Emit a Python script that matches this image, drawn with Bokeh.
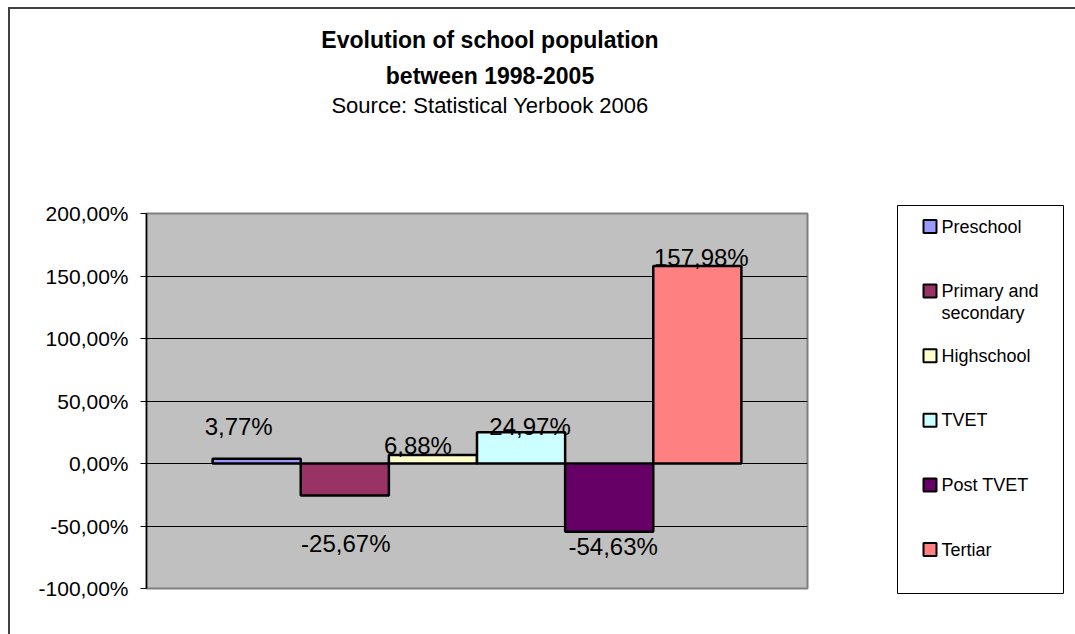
import textwrap

from bokeh.core.properties import value
from bokeh.embed import file_html
from bokeh.layouts import column, row
from bokeh.models import ColumnDataSource, FixedTicker
from bokeh.plotting import figure
from bokeh.resources import INLINE

# Change in enrolment 1998-2005, per school level (percent)
categories = ["Preschool", "Primary and secondary", "Highschool", "TVET", "Post TVET", "Tertiar"]
changes = [3.77, -25.67, 6.88, 24.97, -54.63, 157.98]
colors = ["#9999FF", "#993366", "#FFFFCC", "#CCFFFF", "#660066", "#FF8080"]
y_ticks = [-100, -50, 0, 50, 100, 150, 200]
title_lines = ["Evolution of school population", "between 1998-2005", "Source: Statistical Yerbook 2006"]

# pixel nudges for the value labels, from the bar end (x right, y down)
label_dx = [-18, 1, -15, 9, 4, 4]
label_dy = [-32, 48, -9, -6, 15, -9]

FONT = "Liberation Sans"
OX, OY = 10, 9          # page offset of the chart (inside the border)
PAGE_W, PAGE_H = 1075, 634
SPLIT_X = 860           # page x where the legend panel begins
SPLIT_Y = 150           # page y where the title band ends
MAIN_W, MAIN_H = SPLIT_X - OX, PAGE_H - SPLIT_Y
FL, FR = 146 - OX, 807 - OX                 # plot frame, main canvas x
FT, FB = 213 - SPLIT_Y, 588 - SPLIT_Y       # plot frame, main canvas y


def pct(v):
    return f"{v:.2f}%".replace(".", ",")


def blank_panel(w, h, xr, yr):
    f = figure(width=w, height=h, output_backend="svg", toolbar_location=None,
               title=None, x_range=xr, y_range=yr, x_axis_location=None,
               y_axis_location=None, min_border=0)
    f.frame_align = False
    f.grid.visible = False
    f.outline_line_color = None
    f.background_fill_color = "white"
    f.border_fill_color = "white"
    return f


# ---- title band (page pixel coordinates) ----
head = blank_panel(PAGE_W - OX, SPLIT_Y - OY, (OX, PAGE_W), (SPLIT_Y, OY))
head.text(x=[489.5] * 3, y=[39.7, 75.5, 104.5], text=title_lines,
          text_align="center", text_baseline="middle",
          text_font=value(FONT), text_font_size=["23px", "23px", "22px"],
          text_color="black", text_font_style=["bold", "bold", "normal"])

# ---- bar chart ----
n = len(categories)
p = figure(
    width=MAIN_W, height=MAIN_H, output_backend="svg", toolbar_location=None,
    title=None, x_range=(-1.25, n + 0.25), y_range=(y_ticks[0], y_ticks[-1]),
    x_axis_location=None,
    min_border_left=FL, min_border_right=MAIN_W - FR,
    min_border_top=FT, min_border_bottom=MAIN_H - FB,
)
p.frame_align = False
p.background_fill_color = "#C0C0C0"
p.border_fill_color = "white"
p.outline_line_color = "#808080"
p.outline_line_width = 2

p.xgrid.visible = False
p.ygrid.ticker = FixedTicker(ticks=y_ticks)
p.ygrid.grid_line_color = "black"
p.ygrid.grid_line_width = 1

ax = p.yaxis[0]
ax.ticker = FixedTicker(ticks=y_ticks)
ax.major_label_overrides = {t: pct(t) for t in y_ticks}
ax.axis_line_color = "black"
ax.axis_line_width = 1.5
ax.major_tick_line_color = "black"
ax.major_tick_out = 6
ax.major_tick_in = 0
ax.minor_tick_line_color = None
ax.major_label_text_font = FONT
ax.major_label_text_font_size = "21px"
ax.major_label_text_color = "black"
ax.major_label_standoff = 12

src = ColumnDataSource(dict(
    x=list(range(n)), val=changes, color=colors,
    lbl=[pct(v) for v in changes], dx=label_dx, dy=label_dy,
))
p.vbar(x="x", top="val", bottom=0, width=1, fill_color="color",
       line_color="black", line_width=2.5, source=src)
p.text(x="x", y="val", text="lbl", x_offset="dx", y_offset="dy",
       text_align="center", text_baseline="middle",
       text_font=value(FONT), text_font_size="24px", text_color="black",
       source=src)

# ---- legend panel (page pixel coordinates) ----
leg = blank_panel(PAGE_W - SPLIT_X, MAIN_H, (SPLIT_X, PAGE_W), (PAGE_H, SPLIT_Y))
leg.quad(left=[897], right=[1063], top=[205], bottom=[593],
         fill_color="white", line_color="black", line_width=1)

LEG_Y0, LEG_STEP, SQ = 226, 64.6, 13
item_y = [LEG_Y0 + i * LEG_STEP for i in range(n)]
leg.rect(x=[923 + SQ / 2] * n, y=item_y, width=SQ, height=SQ,
         fill_color=colors, line_color="black", line_width=2)

tx, ty, tt = [], [], []
for yc, name in zip(item_y, categories):
    for j, line in enumerate(textwrap.wrap(name, 12)):
        tx.append(941)
        ty.append(yc + j * 22)
        tt.append(line)
leg.text(x=tx, y=ty, text=tt, text_align="left", text_baseline="middle",
         text_font=value(FONT), text_font_size="18px", text_color="black")

layout = column(head, row(p, leg), styles={
    "border-top": "2px solid #404040",
    "border-left": "2px solid #404040",
    "margin-left": "8px",
    "margin-top": "7px",
})

open("out.html", "w").write(file_html(layout, INLINE))
